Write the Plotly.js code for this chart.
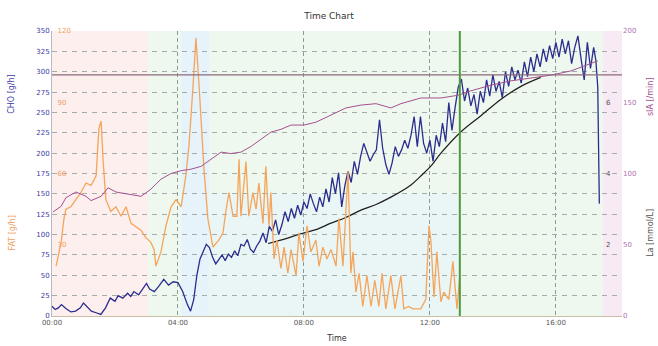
<!DOCTYPE html>
<html>
<head>
<meta charset="utf-8">
<script src="https://cdn.plot.ly/plotly-3.0.1.min.js"></script>
<style>
html,body{margin:0;padding:0;background:#fff;}
#chart{width:658px;height:346px;}
</style>
</head>
<body>
<div id="chart"></div>
<script>
// ---- data (time in hours) ----
const choTime = [0.0,0.1,0.2,0.3,0.45,0.6,0.75,0.9,1.0,1.1,1.25,1.4,1.55,1.7,1.85,2.0,2.1,2.25,2.4,2.5,2.6,2.75,2.9,3.0,3.1,3.25,3.4,3.55,3.7,3.85,4.0,4.15,4.3,4.4,4.5,4.6,4.7,4.8,4.9,5.0,5.1,5.2,5.3,5.4,5.5,5.6,5.7,5.8,5.9,6.0,6.1,6.2,6.3,6.4,6.5,6.6,6.7,6.8,6.9,7.0,7.1,7.2,7.3,7.4,7.5,7.6,7.7,7.8,7.9,8.0,8.1,8.2,8.3,8.4,8.5,8.6,8.7,8.8,8.9,9.0,9.1,9.2,9.3,9.4,9.5,9.6,9.7,9.8,9.9,10.0,10.1,10.2,10.3,10.4,10.5,10.6,10.7,10.8,10.9,11.0,11.1,11.2,11.3,11.4,11.5,11.6,11.7,11.8,11.9,12.0,12.1,12.2,12.3,12.4,12.5,12.6,12.7,12.8,12.9,13.0,13.1,13.2,13.3,13.4,13.5,13.6,13.7,13.8,13.9,14.0,14.1,14.2,14.3,14.4,14.5,14.6,14.7,14.8,14.9,15.0,15.1,15.2,15.3,15.4,15.5,15.6,15.7,15.8,15.9,16.0,16.1,16.2,16.3,16.4,16.5,16.6,16.7,16.8,16.9,17.0,17.1,17.2,17.27,17.33,17.38];
const choValues = [12,8,10,14,9,5,6,10,16,12,6,4,2,10,22,18,25,22,28,24,30,26,35,40,33,30,37,45,38,42,41,30,14,6,20,50,70,80,88,84,72,64,70,75,68,76,72,80,74,88,86,94,82,78,86,92,102,90,110,104,118,100,112,128,116,132,120,136,124,140,132,150,138,128,146,134,156,140,170,150,176,134,160,178,164,190,174,196,212,200,190,198,204,241,206,186,174,188,208,196,204,216,206,222,245,208,245,212,200,216,190,222,208,237,214,262,228,256,281,291,264,280,258,272,248,276,262,290,270,296,276,288,268,300,282,306,290,302,286,312,294,318,300,322,306,328,312,332,316,336,318,340,322,338,310,330,344,316,290,336,304,330,314,281,138];

const fatTime = [0.13,0.29,0.38,0.44,0.6,0.76,0.92,1.08,1.24,1.4,1.49,1.56,1.62,1.71,1.87,2.03,2.19,2.35,2.51,2.83,2.98,3.14,3.24,3.3,3.46,3.62,3.78,3.94,4.1,4.25,4.35,4.48,4.57,4.67,4.73,4.83,4.95,5.11,5.3,5.43,5.52,5.62,5.75,5.87,5.94,6.0,6.16,6.25,6.38,6.48,6.57,6.7,6.79,6.89,6.95,7.05,7.14,7.27,7.37,7.49,7.59,7.75,7.84,7.97,8.1,8.22,8.38,8.48,8.6,8.73,8.86,9.02,9.11,9.24,9.4,9.49,9.56,9.65,9.75,9.87,10.0,10.13,10.25,10.38,10.48,10.6,10.76,10.89,11.08,11.17,11.33,11.46,11.71,11.87,11.97,12.03,12.13,12.22,12.35,12.44,12.6,12.73,12.86,12.95];
const fatValues = [21,31,41,45,46,49,52,56,55,59,79,82,66,49,44,46,42,46,39,36,33,31,28,21,27,38,46,49,46,59,72,97,117,97,83,61,41,29,32,35,44,52,42,42,66,42,65,42,52,45,56,39,63,38,52,24,32,20,29,18,28,17,35,23,38,27,32,21,29,24,28,21,41,21,61,18,27,10,18,4,17,4,15,4,18,3,17,3,17,3,4,3,3,7,38,32,8,27,6,10,7,23,3,17];

const siaTime = [0.03,0.29,0.44,0.76,1.08,1.24,1.56,1.78,2.03,2.35,2.83,3.14,3.46,3.78,4.1,4.41,4.73,5.05,5.37,5.68,6.0,6.32,6.63,6.95,7.27,7.59,8.0,8.38,8.86,9.33,9.81,10.29,10.76,11.08,11.71,12.35,12.92,13.3,13.94,14.57,15.21,15.84,16.48,16.95,17.33];
const siaValues = [73,77,83,87,84,81,84,90,87,86,84,89,96,100,102,103,105,110,115,114,115,119,124,129,131,134,134,136,141,146,148,149,146,149,153,153,155,158,162,165,167,169,172,176,179];

const fitTime = [6.86,7.43,7.9,8.38,8.86,9.33,9.81,10.29,10.76,11.4,11.71,12.03,12.35,12.98,13.62,14.25,14.89,15.52];
const fitValues = [89,95,101,106,114,121,130,137,146,161,172,184,200,226,246,266,282,293];

// La has no samples drawn in the reference; an empty series keeps its axis alive
const laTime = [];
const laValues = [];

const xTickValues = [0,4,8,12,16];
const xTickLabels = ["00:00","04:00","08:00","12:00","16:00"];
const choTicks = [0,25,50,75,100,125,150,175,200,225,250,275,300,325,350];
const fatTicks = [30,60,90,120];
const laTicks = [2,4,6];
const siaTicks = [0,50,100,150,200];

const thresholdCHO = 296;   // horizontal reference line
const markerTime = 12.95;   // green vertical marker
const xMax = 18.1;

const F = "DejaVu Sans, Verdana, sans-serif";

const traces = [
  {x: laTime, y: laValues, yaxis: 'y3', type: 'scatter', mode: 'lines',
   line: {color: '#555', width: 1}, hoverinfo: 'skip'},
  {x: siaTime, y: siaValues, yaxis: 'y4', type: 'scatter', mode: 'lines',
   line: {color: '#a65090', width: 1}, hoverinfo: 'skip'},
  {x: fatTime, y: fatValues, yaxis: 'y2', type: 'scatter', mode: 'lines',
   line: {color: '#f5a55a', width: 1.3}, hoverinfo: 'skip'},
  {x: fitTime, y: fitValues, yaxis: 'y', type: 'scatter', mode: 'lines',
   line: {color: '#1e1e1e', width: 1.2, shape: 'spline'}, hoverinfo: 'skip'},
  {x: choTime, y: choValues, yaxis: 'y', type: 'scatter', mode: 'lines',
   line: {color: '#2b2d8e', width: 1.3}, hoverinfo: 'skip'}
];

const layout = {
  width: 658, height: 346,
  margin: {l: 52, r: 36, t: 31, b: 30, pad: 0},
  paper_bgcolor: '#ffffff',
  plot_bgcolor: '#eef8ee',
  showlegend: false,
  font: {family: F, size: 7, color: '#555'},
  title: {text: 'Time Chart', font: {family: F, size: 9, color: '#333'}, x: 0.5, xanchor: 'center', y: 0.955, yanchor: 'middle'},
  xaxis: {
    range: [0, xMax], tickvals: xTickValues, ticktext: xTickLabels,
    showgrid: true, gridcolor: '#8e9a96', griddash: '4px,3px', gridwidth: 1,
    zeroline: false, showline: true, linecolor: '#c8bfa6', linewidth: 1,
    ticks: '', tickfont: {family: F, size: 7, color: '#555'},
    title: {text: 'Time', font: {family: F, size: 8, color: '#333'}, standoff: 8}
  },
  yaxis: {
    range: [0, 350], tickvals: choTicks, side: 'left',
    showgrid: true, gridcolor: '#a3adaa', griddash: '5px,5px', gridwidth: 1,
    zeroline: false, showline: true, linecolor: '#b8b8c8', linewidth: 1,
    ticks: '', tickfont: {family: F, size: 7, color: '#3c3ca6'}
  },
  yaxis2: {
    range: [0, 120], tickvals: fatTicks, overlaying: 'y', side: 'right',
    anchor: 'free', position: 0.008,
    showgrid: false, zeroline: false, showline: false,
    ticks: '', tickfont: {family: F, size: 7, color: '#f0a060'}
  },
  yaxis3: {
    range: [0, 8], tickvals: laTicks, overlaying: 'y', side: 'right',
    anchor: 'free', position: 0.97, autorange: false,
    showgrid: false, zeroline: false, showline: false,
    ticks: '', tickfont: {family: F, size: 7, color: '#555'}
  },
  yaxis4: {
    range: [0, 200], tickvals: siaTicks, overlaying: 'y', side: 'right',
    showgrid: false, zeroline: false, showline: false,
    ticks: '', tickfont: {family: F, size: 7, color: '#b070b0'}
  },
  shapes: [
    {type: 'rect', layer: 'below', xref: 'x', yref: 'paper', x0: 0, x1: 3.05, y0: 0, y1: 1,
     fillcolor: '#fcefee', line: {width: 0}},
    {type: 'rect', layer: 'below', xref: 'x', yref: 'paper', x0: 4.1, x1: 5.0, y0: 0, y1: 1,
     fillcolor: '#e6f3fa', line: {width: 0}},
    {type: 'rect', layer: 'below', xref: 'x', yref: 'y', x0: 5.0, x1: markerTime, y0: 0, y1: 150,
     fillcolor: '#eaf5f6', line: {width: 0}},
    {type: 'rect', layer: 'below', xref: 'x', yref: 'paper', x0: 17.5, x1: xMax, y0: 0, y1: 1,
     fillcolor: '#f8eaf5', line: {width: 0}},
    {type: 'line', xref: 'paper', yref: 'y', x0: 0, x1: 1, y0: thresholdCHO, y1: thresholdCHO,
     line: {color: '#8c6a7c', width: 1.2}},
    {type: 'line', xref: 'x', yref: 'paper', x0: markerTime, x1: markerTime, y0: 0, y1: 1,
     line: {color: '#4e9a3c', width: 2}}
  ],
  annotations: [
    {text: 'CHO [g/h]', xref: 'paper', yref: 'paper', x: -0.07, y: 0.78, xanchor: 'center', yanchor: 'middle',
     textangle: -90, showarrow: false, font: {family: F, size: 8, color: '#3c3ca6'}},
    {text: 'FAT [g/h]', xref: 'paper', yref: 'paper', x: -0.07, y: 0.29, xanchor: 'center', yanchor: 'middle',
     textangle: -90, showarrow: false, font: {family: F, size: 8, color: '#f0a060'}},
    {text: 'sIA [/min]', xref: 'paper', yref: 'paper', x: 1.05, y: 0.77, xanchor: 'center', yanchor: 'middle',
     textangle: -90, showarrow: false, font: {family: F, size: 8, color: '#a65090'}},
    {text: 'La [mmol/L]', xref: 'paper', yref: 'paper', x: 1.05, y: 0.29, xanchor: 'center', yanchor: 'middle',
     textangle: -90, showarrow: false, font: {family: F, size: 8, color: '#555'}}
  ]
};

Plotly.newPlot('chart', traces, layout, {staticPlot: true, displayModeBar: false});
</script>
</body>
</html>
